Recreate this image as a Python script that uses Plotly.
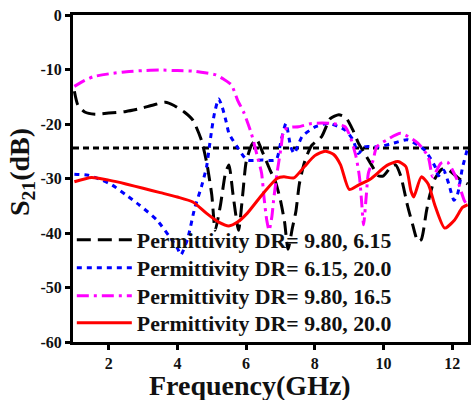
import plotly.graph_objects as go

# ---- data ----
black_x = [1.0, 1.1, 1.3, 1.6, 2.0, 2.5, 2.9, 3.3, 3.65, 3.9, 4.2, 4.45, 4.7, 4.85, 5.0, 5.1,
           5.25, 5.4, 5.5, 5.62, 5.78, 5.9, 6.0, 6.15, 6.3, 6.5, 6.7, 6.85, 7.0, 7.12, 7.22,
           7.35, 7.45, 7.55, 7.7, 7.9, 8.2, 8.45, 8.7, 8.9, 9.1, 9.27, 9.45, 9.65, 9.85, 10.0,
           10.2, 10.35, 10.5, 10.7, 10.85, 11.0, 11.1, 11.25, 11.35, 11.5, 11.7, 11.9, 12.1,
           12.3, 12.45]
black_y = [-14.0, -16.5, -17.8, -18.2, -18.0, -17.7, -17.2, -16.5, -16.0, -16.6, -17.8, -19.3,
           -23.0, -27.0, -33.0, -39.5, -35.0, -29.0, -27.5, -33.0, -39.5, -33.0, -27.0, -24.0,
           -22.8, -25.5, -28.5, -30.5, -34.0, -38.0, -43.0, -39.0, -36.0, -31.0, -27.0, -24.0,
           -22.3, -19.0, -18.3, -18.8, -21.0, -23.5, -25.4, -27.5, -29.5, -29.5, -28.0, -27.5,
           -29.5, -35.0, -38.5, -41.5, -41.2, -36.0, -33.0, -30.0, -28.3, -28.5, -29.5, -30.5,
           -31.0]

blue_x = [1.0, 1.4, 1.8, 2.1, 2.5, 2.9, 3.4, 3.75, 4.0, 4.1, 4.3, 4.5, 4.7, 4.85, 4.93, 5.0,
          5.08, 5.2, 5.3, 5.42, 5.5, 5.74, 6.03, 6.47, 6.87, 7.02, 7.16, 7.3, 7.4, 7.63, 8.02,
          8.4, 8.88, 9.11, 9.27, 9.45, 9.85, 10.3, 10.7, 11.2, 11.5, 11.6, 11.75, 11.9, 12.05,
          12.15, 12.3, 12.45]
blue_y = [-29.2, -29.4, -30.3, -31.2, -33.0, -34.9, -37.6, -40.5, -42.8, -44.0, -41.0, -35.5,
          -31.5, -27.8, -24.2, -21.0, -18.0, -15.4, -16.8, -19.6, -21.7, -24.2, -26.6, -26.6,
          -26.6, -23.0, -19.9, -24.2, -25.4, -22.3, -20.5, -19.9, -21.1, -22.9, -25.4, -24.2,
          -24.2, -23.5, -22.9, -24.8, -27.8, -29.5, -28.5, -31.0, -34.0, -33.0, -28.0, -24.4]

mag_x = [1.0, 1.3, 1.56, 2.0, 2.52, 3.0, 3.48, 4.0, 4.44, 4.8, 5.12, 5.35, 5.57, 5.75, 5.94,
         6.15, 6.33, 6.45, 6.52, 6.6, 6.67, 6.75, 6.8, 6.9, 7.02, 7.1, 7.3, 7.53, 7.91, 8.5,
         8.88, 9.03, 9.2, 9.3, 9.36, 9.42, 9.5, 9.56, 9.7, 9.8, 10.1, 10.5, 11.0, 11.3, 11.43,
         11.55, 11.67, 11.86, 12.15, 12.35, 12.45]
mag_y = [-13.1, -12.0, -11.3, -10.8, -10.4, -10.2, -10.1, -10.2, -10.3, -10.6, -11.0, -11.8,
         -12.8, -15.6, -18.0, -21.7, -26.0, -29.0, -33.4, -37.6, -39.5, -37.0, -34.0, -29.0,
         -24.2, -21.1, -20.6, -20.5, -19.9, -19.9, -20.5, -22.3, -26.0, -29.7, -34.0, -38.5,
         -33.0, -29.0, -26.6, -24.2, -22.9, -21.7, -23.5, -26.0, -29.7, -28.5, -27.2, -27.0,
         -30.3, -34.0, -35.0]

red_x = [1.0, 1.5, 2.0, 2.5, 3.0, 3.5, 4.0, 4.45, 4.85, 5.2, 5.5, 5.75, 6.03, 6.5, 6.9, 7.1,
         7.39, 7.7, 8.0, 8.3, 8.55, 8.75, 9.0, 9.27, 9.6, 10.1, 10.42, 10.65, 10.8, 10.88,
         11.1, 11.3, 11.5, 11.78, 12.07, 12.3, 12.45]
red_y = [-30.6, -29.8, -30.3, -31.0, -31.8, -32.6, -33.4, -34.3, -36.4, -38.0, -38.7, -38.0,
         -36.4, -32.7, -30.0, -29.7, -29.9, -27.8, -25.8, -25.0, -25.6, -27.5, -32.0, -31.2,
         -30.2, -27.6, -26.9, -27.8, -32.3, -33.4, -29.7, -31.0, -35.0, -39.1, -37.6, -35.3,
         -34.8]

ref_level = -24.4
x_range = [0.96, 12.46]

names = ["Permittivity DR= 9.80, 6.15", "Permittivity DR= 6.15, 20.0",
         "Permittivity DR= 9.80, 16.5", "Permittivity DR= 9.80, 20.0"]

x_ticks = [2, 4, 6, 8, 10, 12]
y_ticks = [0, -10, -20, -30, -40, -50, -60]

SERIF = "Liberation Serif"

fig = go.Figure()
fig.add_trace(go.Scatter(x=x_range, y=[ref_level, ref_level], mode="lines",
                         line=dict(color="black", width=3, dash="6px,4px"),
                         showlegend=False, hoverinfo="skip"))
fig.add_trace(go.Scatter(x=black_x, y=black_y, mode="lines", name=names[0], legend="legend",
                         line=dict(color="black", width=3, dash="14px,7px", shape="spline", smoothing=0.6)))
fig.add_trace(go.Scatter(x=blue_x, y=blue_y, mode="lines", name=names[1], legend="legend2",
                         line=dict(color="#0000FF", width=3, dash="5px,5px", shape="spline", smoothing=0.6)))
fig.add_trace(go.Scatter(x=mag_x, y=mag_y, mode="lines", name=names[2], legend="legend3",
                         line=dict(color="#FF00FF", width=3, dash="12px,5px,3px,5px", shape="spline", smoothing=0.6)))
fig.add_trace(go.Scatter(x=red_x, y=red_y, mode="lines", name=names[3], legend="legend4",
                         line=dict(color="#FF0000", width=3, shape="spline", smoothing=0.6)))

axis_common = dict(showline=True, linecolor="black", linewidth=3, mirror=True,
                   ticks="outside", ticklen=5, tickwidth=3, tickcolor="black",
                   showgrid=False, zeroline=False,
                   tickfont=dict(family=SERIF, size=16, color="#111", weight="bold"))

fig.update_xaxes(range=x_range, tickvals=x_ticks, ticktext=[str(t) for t in x_ticks], **axis_common)
fig.update_yaxes(range=[-60, 0], tickvals=y_ticks, ticktext=[str(t) for t in y_ticks], **axis_common)

fig.add_annotation(text="Frequency(GHz)", xref="paper", yref="paper", x=0.447, y=-0.134,
                   xanchor="center", yanchor="middle", showarrow=False,
                   font=dict(family=SERIF, size=28, color="#111", weight="bold"))
fig.add_annotation(text="S<sub>21</sub>(dB)", xref="paper", yref="paper", x=-0.129, y=0.52,
                   xanchor="center", yanchor="middle", showarrow=False, textangle=-90,
                   font=dict(family=SERIF, size=28, color="#111", weight="bold"))

legend_font = dict(family=SERIF, size=21.8, color="#111", weight="bold")
legend_centers_px = [240, 268, 296, 323]
plot_top, plot_h = 15, 327


def leg(cy):
    return dict(x=-0.003, y=(plot_top + plot_h - cy) / plot_h, xanchor="left", yanchor="middle",
                bgcolor="rgba(0,0,0,0)", borderwidth=0, itemwidth=55, font=legend_font)


fig.update_layout(
    width=472, height=400,
    margin=dict(l=73, r=1, t=15, b=58),
    paper_bgcolor="white", plot_bgcolor="white",
    legend=leg(legend_centers_px[0]),
    legend2=leg(legend_centers_px[1]),
    legend3=leg(legend_centers_px[2]),
    legend4=leg(legend_centers_px[3]),
)

fig.write_html("out.html")
